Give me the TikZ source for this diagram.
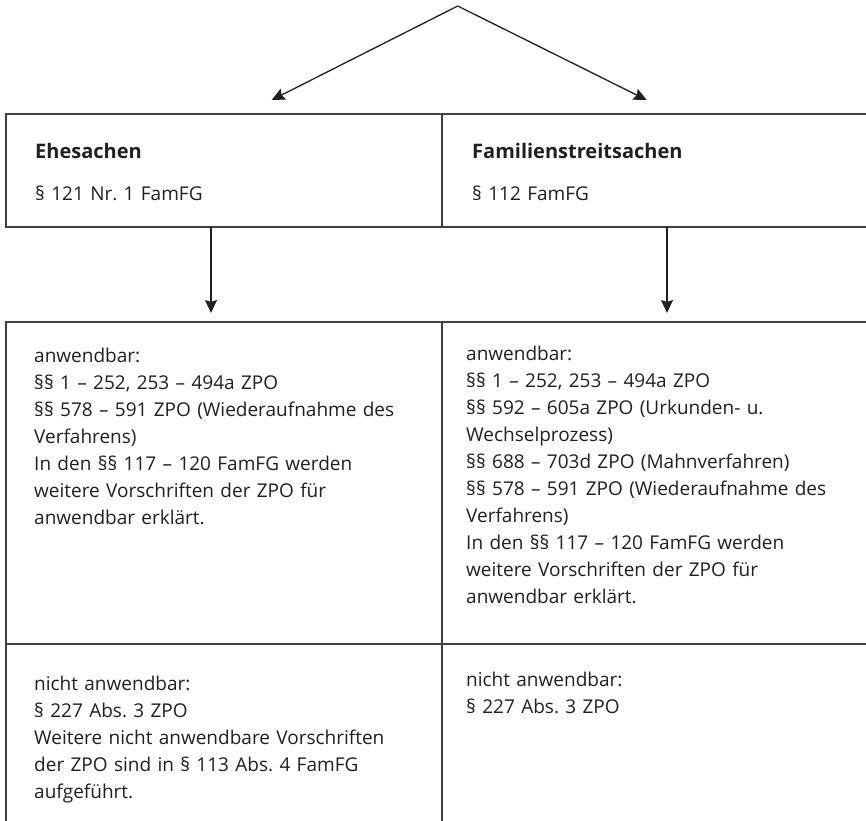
\documentclass[tikz,border=0pt]{standalone}
\usepackage{fontspec}
\setmainfont{Open Sans}
\usetikzlibrary{arrows.meta}
\definecolor{boxline}{HTML}{404040}
\definecolor{ink}{HTML}{231F20}
\begin{document}
\frenchspacing
\begin{tikzpicture}[x=1pt,y=-1pt,
  cell/.style={draw=boxline, line width=2pt, inner sep=0pt, outer sep=0pt, anchor=north west},
  txt/.style={anchor=north west, inner sep=0pt, align=left, text width=420pt, font=\fontsize{19}{27}\selectfont, text=ink},
  ttl/.style={txt, font=\fontsize{20}{27}\selectfont\bfseries},
  arr/.style={draw=ink, line width=1.3pt, -{Stealth[length=13pt,width=12pt,inset=2pt]}}]
\useasboundingbox (0,0) rectangle (866,820);
% cells
\node[cell, minimum width=436pt, minimum height=112.4pt] (ehe) at (5.7,114.3) {};
\node[cell, minimum width=440pt, minimum height=112.4pt] (fam) at (441.7,114.3) {};
\node[cell, minimum width=436pt, minimum height=322.3pt] (ehemid) at (5.7,321.7) {};
\node[cell, minimum width=440pt, minimum height=322.3pt] (fammid) at (441.7,321.7) {};
\node[cell, minimum width=436pt, minimum height=190pt] (ehenot) at (5.7,644) {};
\node[cell, minimum width=440pt, minimum height=190pt] (famnot) at (441.7,644) {};
% texts
\node[ttl] (ehetitle) at (35,139.1) {\strut Ehesachen};
\node[txt] (eheref) at (35,181.1) {\strut§ 121 Nr. 1 FamFG};
\node[ttl] (famtitle) at (472,139.1) {\strut Familienstreitsachen};
\node[txt] (famref) at (472,181.1) {\strut§ 112 FamFG};
\node[txt] (ehemidtxt) at (34,343.1) {\strut anwendbar:\\
§§ 1 – 252, 253 – 494a ZPO\\
§§ 578 – 591 ZPO (Wiederaufnahme des\\
Verfahrens)\\
In den §§ 117 – 120 FamFG werden\\
weitere Vorschriften der ZPO für\\
anwendbar erklärt.};
\node[txt] (fammidtxt) at (466,341.1) {\strut anwendbar:\\
§§ 1 – 252, 253 – 494a ZPO\\
§§ 592 – 605a ZPO (Urkunden- u.\\
Wechselprozess)\\
§§ 688 – 703d ZPO (Mahnverfahren)\\
§§ 578 – 591 ZPO (Wiederaufnahme des\\
Verfahrens)\\
In den §§ 117 – 120 FamFG werden\\
weitere Vorschriften der ZPO für\\
anwendbar erklärt.};
\node[txt] (ehenottxt) at (34,671.1) {\strut nicht anwendbar:\\
§ 227 Abs. 3 ZPO\\
Weitere nicht anwendbare Vorschriften\\
der ZPO sind in § 113 Abs. 4 FamFG\\
aufgeführt.};
\node[txt] (famnottxt) at (466,667.1) {\strut nicht anwendbar:\\
§ 227 Abs. 3 ZPO};
% connectors
\coordinate (apex) at (457.7,6);
\coordinate (tipL) at (271.7,100);
\coordinate (tipR) at (646.7,100);
\coordinate (downL) at (211,313);
\coordinate (downR) at (667,313);
\draw[arr] (apex) -- (tipL);
\draw[arr] (apex) -- (tipR);
\draw[arr] (ehe.south -| downL) -- (downL);
\draw[arr] (fam.south -| downR) -- (downR);
\end{tikzpicture}
\end{document}
